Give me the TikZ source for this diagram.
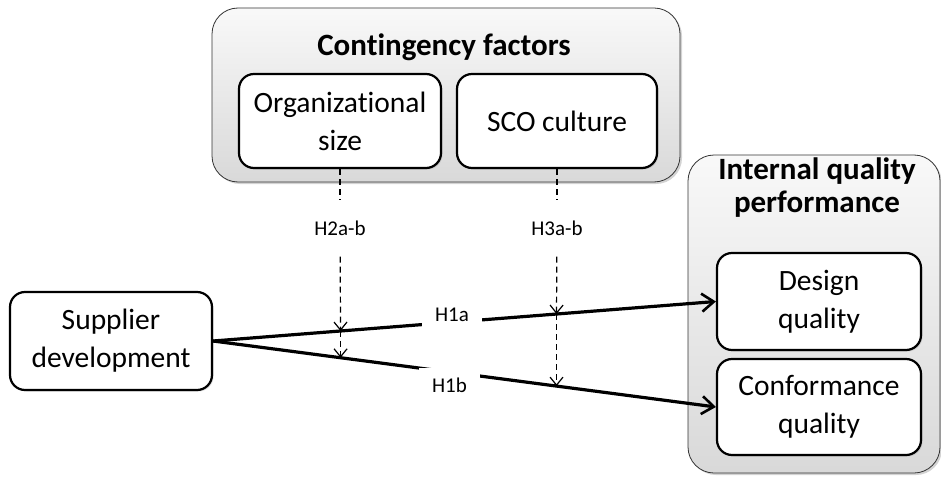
\documentclass[tikz,border=0pt]{standalone}
\usepackage{fontspec}
\setmainfont{Carlito}[Ligatures=NoCommon]
\usetikzlibrary{arrows.meta,shadows}

\begin{document}
\begin{tikzpicture}[x=1pt,y=-1pt,line join=round,
	group/.style={draw=black!80,line width=0.8pt,rounded corners=26pt,top color=gray!5,bottom color=gray!30,
		drop shadow={opacity=0.35,shadow xshift=2pt,shadow yshift=-2pt}},
	var/.style={draw=black,line width=2.2pt,rounded corners=15pt,fill=white,align=center,inner sep=0pt,
		font=\fontsize{29.5}{38}\selectfont,drop shadow={opacity=0.25,shadow xshift=1.5pt,shadow yshift=-1.5pt}},
	grptitle/.style={font=\bfseries\fontsize{31}{33}\selectfont,align=center},
	hyp/.style={font=\fontsize{21}{24}\selectfont,fill=white,inner xsep=13pt,inner ysep=10pt},
	modlab/.style={font=\fontsize{21}{24}\selectfont,inner xsep=2pt,inner ysep=21pt},
	link/.style={line width=3.2pt,-{Straight Barb[length=12pt,width=18pt,line width=2.6pt]}},
	mod/.style={line width=1.2pt,dash pattern=on 6pt off 4pt},
	modarr/.style={mod,-{Straight Barb[length=8pt,width=13pt,line width=1.2pt]}}]
	\useasboundingbox (0,0) rectangle (941,476);
	
	% Contingency factors
	\node[group,minimum width=468pt,minimum height=174pt] (cont) at (446,95) {};
	\node[grptitle] (conttitle) at (444,47) {Contingency factors};
	\node[var,minimum width=202pt,minimum height=94pt] (org) at (340,121) {Organizational\\size};
	\node[var,minimum width=200pt,minimum height=94pt] (sco) at (557,121) {SCO culture};
	
	% Internal quality performance
	\node[group,minimum width=252pt,minimum height=318pt] (iqp) at (814,314) {};
	\node[grptitle] (iqptitle) at (817,188) {Internal quality\\performance};
	\node[var,minimum width=204pt,minimum height=97pt] (des) at (819,301.5) {Design\\quality};
	\node[var,minimum width=204pt,minimum height=96pt] (conf) at (819,407) {Conformance\\quality};
	
	% Supplier development
	\node[var,minimum width=202pt,minimum height=98pt] (sup) at (111,341) {Supplier\\development};
	
	% Main effects
	\draw[link] (sup.east) -- coordinate[pos=0.2535] (a2) coordinate[pos=0.683] (a3)
		node[hyp,pos=0.475,yshift=7pt] (h1a) {H1a} (des.west);
	\draw[link] (sup.east) -- coordinate[pos=0.2535] (b2) coordinate[pos=0.683] (b3)
		node[hyp,pos=0.47,yshift=-13pt] (h1b) {H1b} (conf.west);
	
	% Moderating effects
	\node[modlab] (h2) at (340,228) {H2a-b};
	\node[modlab] (h3) at (557,228) {H3a-b};
	\draw[mod] (org.south) -- (h2);
	\draw[modarr] (h2) -- (a2);
	\draw[modarr] (a2) -- (b2);
	\draw[mod] (sco.south) -- (h3);
	\draw[modarr] (h3) -- (a3);
	\draw[modarr] (a3) -- (b3);
\end{tikzpicture}
\end{document}
